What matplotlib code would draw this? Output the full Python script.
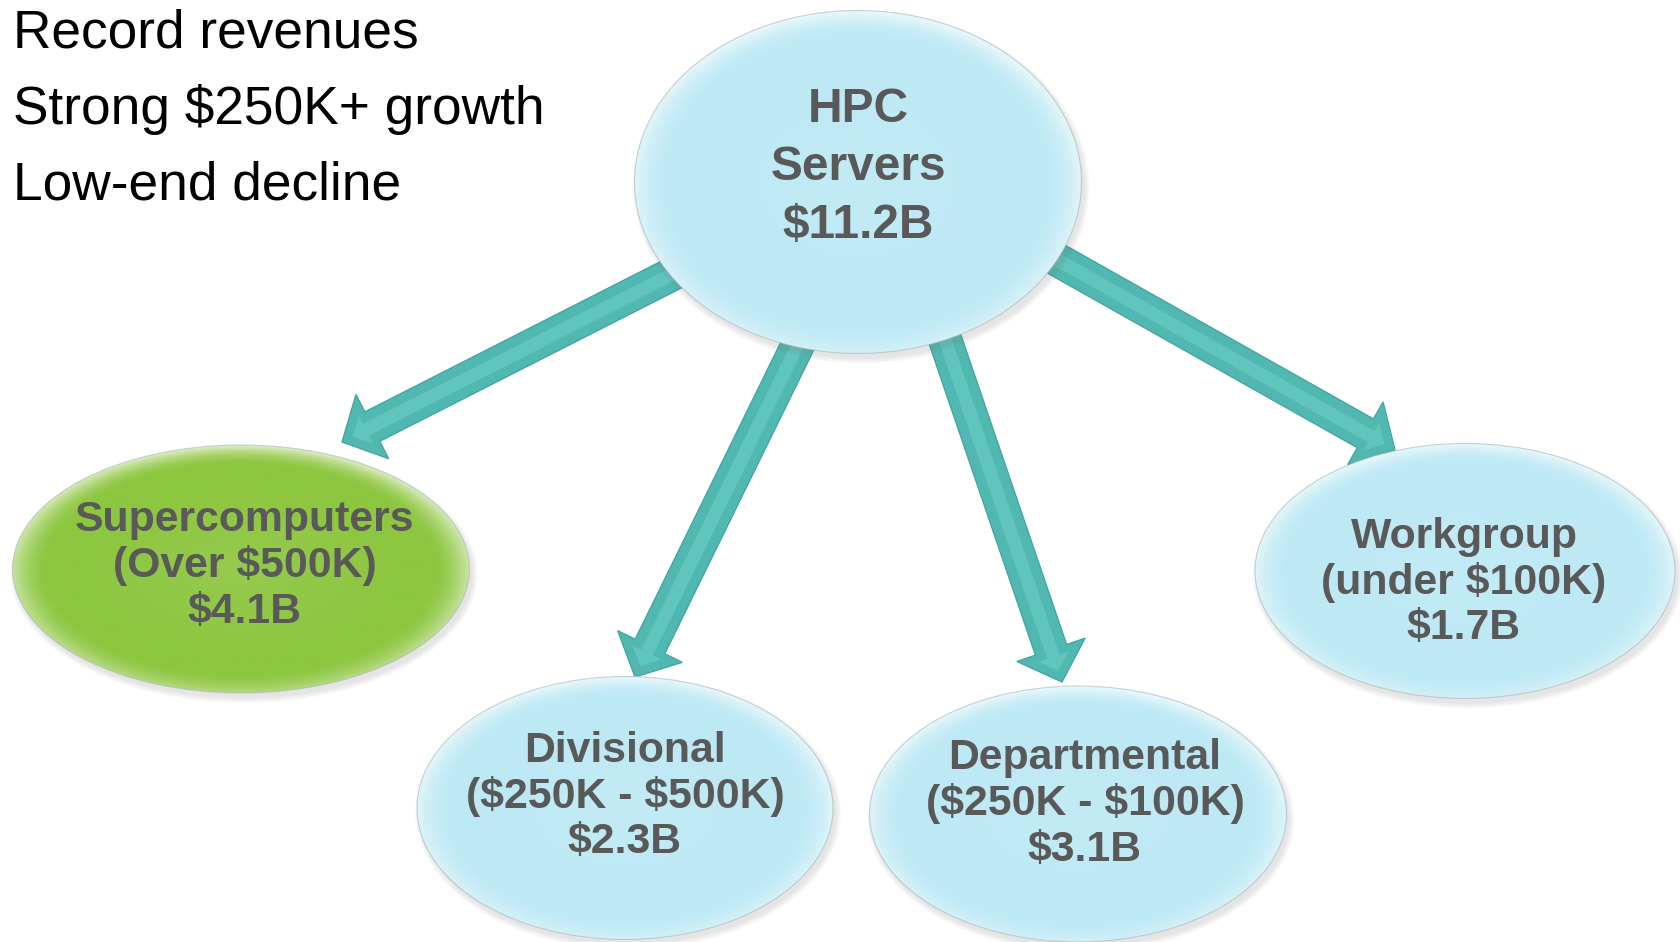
import numpy as np
import matplotlib
matplotlib.use("Agg")
import matplotlib.pyplot as plt
from matplotlib.patches import Ellipse, FancyArrow

# ── DATA ──
node_names = ["HPC\nServers", "Supercomputers", "Divisional", "Departmental", "Workgroup"]
node_ranges = ["", "(Over $500K)", "($250K - $500K)", "($250K - $100K)", "(under $100K)"]
revenue_b = [11.2, 4.1, 2.3, 3.1, 1.7]
bullets = ["Record revenues", "Strong $250K+ growth", "Low-end decline"]

# ── LAYOUT (pixel coordinates, y down) ──
W, H = 1681, 942
ELL = [  # cx, cy, w, h
    (858, 182, 447, 343),
    (241, 569, 457, 248),
    (625, 808, 416, 263),
    (1078, 814, 417, 256),
    (1465, 571, 420, 255),
]
TEXT_X = [858, 245, 625, 1085, 1464]
BASELINES = [
    [122, 180, 238],
    [531, 577, 623],
    [762, 808, 853],
    [769, 815, 861],
    [548, 594, 639],
]
FILL = ["#bde9f4", "#8dc63f", "#bde9f4", "#bde9f4", "#bde9f4"]
ARROWS = [  # start (under the top ellipse) -> tip
    ((700, 260), (342, 442)),
    ((815, 310), (635, 677)),
    ((935, 310), (1062, 682)),
    ((1040, 250), (1395, 450)),
]
TXT_COL = "#595959"
FONT = ["Liberation Sans", "DejaVu Sans"]

fig = plt.figure(figsize=(W / 100, H / 100), dpi=100)
ax = fig.add_axes([0, 0, 1, 1])
ax.set_xlim(0, W)
ax.set_ylim(H, 0)
ax.set_axis_off()


def draw_node(cx, cy, w, h, color, z=3):
    # soft shadow
    for k in range(6):
        ax.add_patch(Ellipse((cx + 3, cy + 5), w + 2 * k, h + 2 * k,
                             facecolor="#7a7a7a", edgecolor="none",
                             alpha=0.03, zorder=z - 0.5))
    base = np.array(matplotlib.colors.to_rgb(color))
    X, Y = np.meshgrid(np.linspace(-1, 1, 240), np.linspace(-1, 1, 240))
    R = np.sqrt(X ** 2 + Y ** 2)
    glow = np.clip((R - 0.84) / 0.16, 0, 1) ** 1.8
    side = 0.45 + 0.55 * (1 - Y) / 2
    g = (0.7 * glow * side)[..., None]
    inner = (0.08 * np.clip(1 - R / 0.7, 0, 1))[..., None]
    img = base * (1 - g) + g
    img = img * (1 - inner) + inner
    clip = Ellipse((cx, cy), w, h, facecolor="none", edgecolor="none",
                   transform=ax.transData)
    ax.add_patch(clip)
    im = ax.imshow(img, extent=(cx - w / 2, cx + w / 2, cy + h / 2, cy - h / 2),
                   origin="upper", interpolation="bilinear", zorder=z, aspect="auto")
    im.set_clip_path(clip)
    ax.add_patch(Ellipse((cx, cy), w, h, facecolor="none", edgecolor="#a9b4b8",
                         linewidth=0.8, alpha=0.6, zorder=z + 0.1))


# arrows go under the top ellipse
for (x0, y0), (x1, y1) in ARROWS:
    dx, dy = x1 - x0, y1 - y0
    ax.add_patch(FancyArrow(x0, y0, dx, dy, width=33, head_width=72, head_length=34,
                            length_includes_head=True, facecolor="#50b8b0",
                            edgecolor="#46a7a0", linewidth=1.0, zorder=1))
    ax.add_patch(FancyArrow(x0, y0, dx * 0.97, dy * 0.97, width=13, head_width=32,
                            head_length=15, length_includes_head=True,
                            facecolor="#74d3cb", edgecolor="none", alpha=0.5, zorder=1.2))

for i, (cx, cy, w, h) in enumerate(ELL):
    draw_node(cx, cy, w, h, FILL[i])
    if i == 0:
        lines = node_names[0].split("\n") + [f"${revenue_b[0]:.1f}B"]
        fs = 34.5
    else:
        lines = [node_names[i], node_ranges[i], f"${revenue_b[i]:.1f}B"]
        fs = 30.8
    for txt, yb in zip(lines, BASELINES[i]):
        ax.text(TEXT_X[i], yb, txt, ha="center", va="baseline", fontsize=fs,
                fontweight="bold", color=TXT_COL, family=FONT, zorder=6,
                parse_math=False)

for txt, yb in zip(bullets, [47, 124, 200]):
    ax.text(13, yb, txt, ha="left", va="baseline", fontsize=38.3, color="black",
            family=FONT, zorder=6, parse_math=False)

fig.savefig("out.png", dpi=100, facecolor="white")
